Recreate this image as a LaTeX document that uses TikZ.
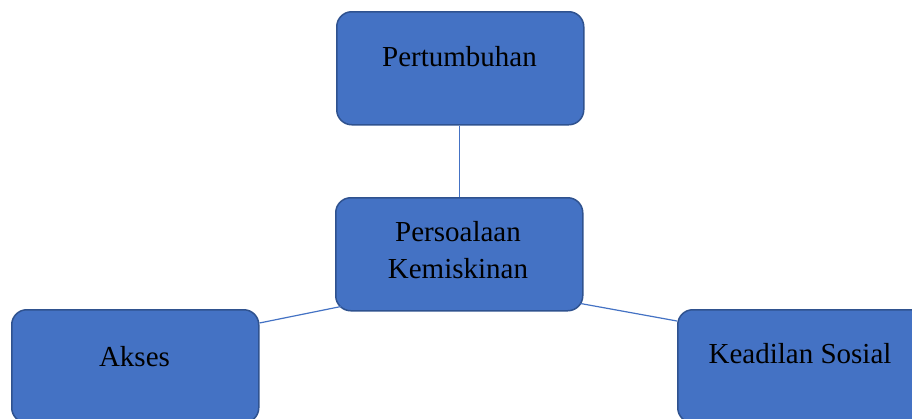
\documentclass[tikz,border=0pt]{standalone}
\usepackage{fontspec}
\setmainfont{Liberation Serif}
\usetikzlibrary{calc}
\definecolor{boxfill}{HTML}{4472C4}
\definecolor{boxedge}{HTML}{2F528F}
\tikzset{
  blue box/.style={draw=boxedge, line width=1.5pt, fill=boxfill, rounded corners=15pt,
    minimum width=247pt, minimum height=113pt, inner sep=0pt, anchor=north west},
  lbl/.style={font=\fontsize{29pt}{34pt}\selectfont, anchor=base, inner sep=0pt, text=black},
  link/.style={draw=boxfill, line width=1.2pt}
}
\begin{document}
\begin{tikzpicture}[x=1pt,y=-1pt]
\useasboundingbox (0,0) rectangle (912,418);
\fill[white] (0,0) rectangle (912,418);
\clip (0,0) rectangle (912,418);
\node[blue box] (top) at (336,11) {};
\node[blue box] (mid) at (335,197) {};
\node[blue box] (left) at (11,309) {};
\node[blue box] (right) at (677,309) {};
\draw[link] (mid.north |- top.south) -- (mid.north);
\draw[link] ($(left.north east)+(0,14)$) -- ($(mid.south west)+(6,-5)$);
\draw[link] ($(mid.south east)+(-3,-8)$) -- ($(right.north west)+(0,12)$);
\node[lbl] (t1) at (459.5,66) {Pertumbuhan};
\node[lbl] (t2a) at (458,241) {Persoalaan};
\node[lbl] (t2b) at (458,278) {Kemiskinan};
\node[lbl] (t3) at (134.5,366) {Akses};
\node[lbl] (t4) at (800,363) {Keadilan Sosial};
\end{tikzpicture}
\end{document}
